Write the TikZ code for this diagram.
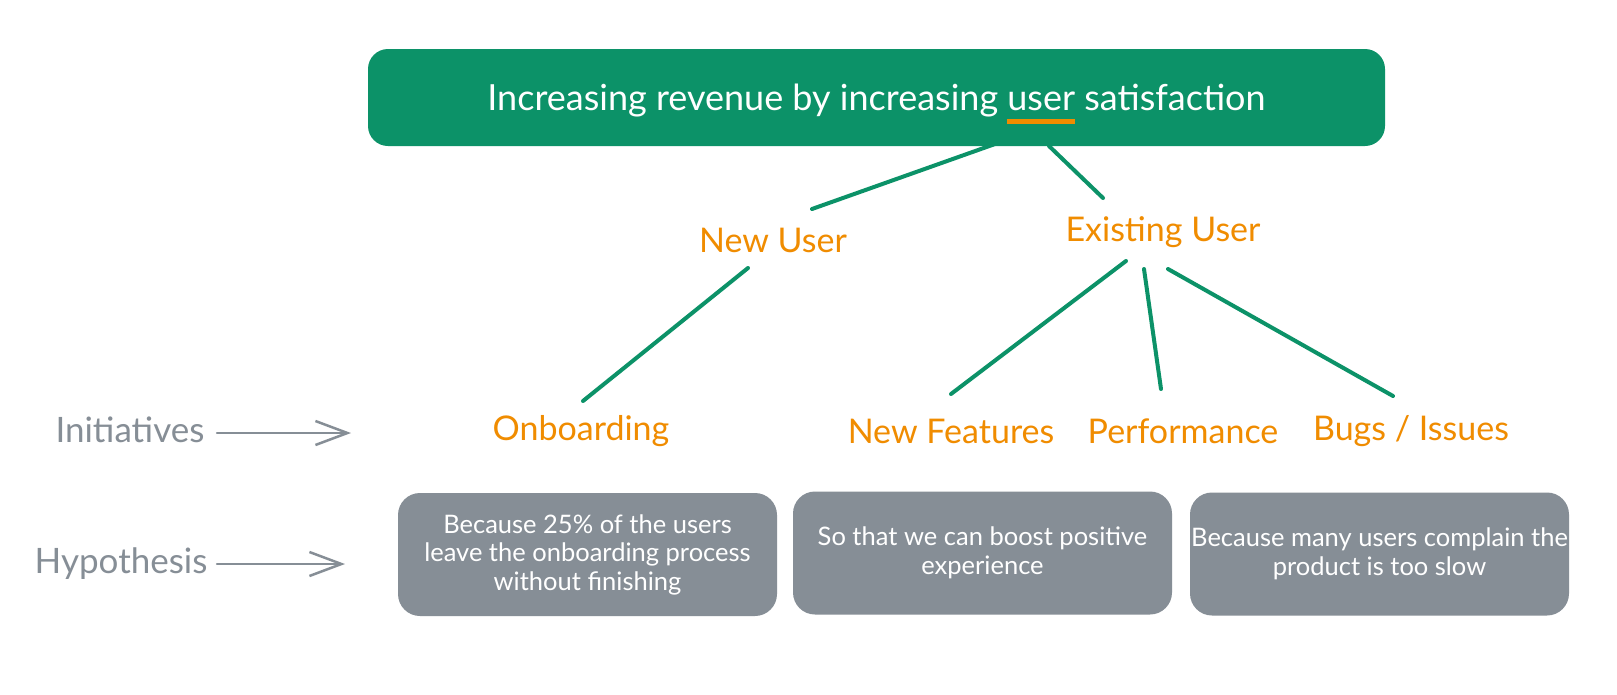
\documentclass[tikz,border=0pt]{standalone}
\usepackage{fontspec}
\setmainfont{Lato}
\usetikzlibrary{positioning,calc,arrows.meta}

\definecolor{goalgreen}{HTML}{0C9268}
\definecolor{inkorange}{HTML}{F08C00}
\definecolor{slate}{HTML}{868E96}

% orange bar under one word of the goal
\newcommand\markword[1]{\setbox0\hbox{#1}\rlap{\color{inkorange}\rule[-13pt]{\wd0}{5pt}}\box0\relax}

\begin{document}
\begin{tikzpicture}[x=1pt, y=-1pt,
	goalbox/.style={rectangle, rounded corners=20pt, fill=goalgreen, text=white, minimum width=1017pt, minimum height=97pt, text depth=0pt, font=\fontsize{36}{42}\selectfont},
	branch/.style={text=inkorange, font=\fontsize{34}{40}\selectfont},
	sidelabel/.style={text=slate, font=\fontsize{35}{40}\selectfont},
	hypobox/.style={rectangle, rounded corners=22pt, fill=slate, text=white, minimum width=379pt, minimum height=123pt, inner xsep=0pt, align=center, font=\fontsize{25.5}{28.5}\selectfont},
	link/.style={goalgreen, line width=4pt, line cap=round},
	pointer/.style={slate, line width=2.5pt, line cap=round, -{Straight Barb[length=32pt,width=24pt]}}
]

	\fill [white] (0,0) rectangle (1617,694);
	\useasboundingbox (0,0) rectangle (1617,694);

	\node [goalbox] (goal) at (876.5,97.5) {Increasing revenue by increasing \markword{user} satisfaction};

	\node [branch] (newuser) at (773,240) {New User};
	\node [branch] (existing) at (1163,232) {Existing User};

	\node [branch] (onboard) at (581,431) {Onboarding};
	\node [branch] (newfeat) at (951,431) {New Features};
	\node [branch] (perf) at (1183,431) {Performance};
	\node [branch] (bugs) at (1411,431) {Bugs / Issues};

	\node [sidelabel, anchor=east] (initlbl) at (208,430) {Initiatives};
	\node [sidelabel, anchor=east] (hyplbl) at (211,564) {Hypothesis};
	\coordinate (initend) at (351,433);
	\coordinate (hypend) at (345,564);

	\node [hypobox] (hyp1) at (587.5,554.5) {Because 25\% of the users\\leave the onboarding process\\without finishing};
	\node [hypobox] (hyp2) at (982.5,553) {So that we can boost positive\\experience};
	\node [hypobox] (hyp3) at (1379.5,554) {Because many users complain the\\product is too slow};

	\draw [link] ($(goal)+(118.5,46.5)$) -- ($(newuser)+(39,-31)$);
	\draw [link] ($(goal)+(172.5,48.5)$) -- ($(existing)+(-60,-34)$);
	\draw [link] ($(newuser)+(-25,28)$) -- ($(onboard)+(2,-30)$);
	\draw [link] ($(existing)+(-37,29)$) -- ($(newfeat)+(0,-37)$);
	\draw [link] ($(existing)+(-19,37)$) -- ($(perf)+(-22,-42)$);
	\draw [link] ($(existing)+(5,37)$) -- ($(bugs)+(-18,-35)$);

	\draw [pointer] ([xshift=9pt,yshift=-3pt]initlbl.east) -- (initend);
	\draw [pointer] ([xshift=6pt]hyplbl.east) -- (hypend);

\end{tikzpicture}
\end{document}
